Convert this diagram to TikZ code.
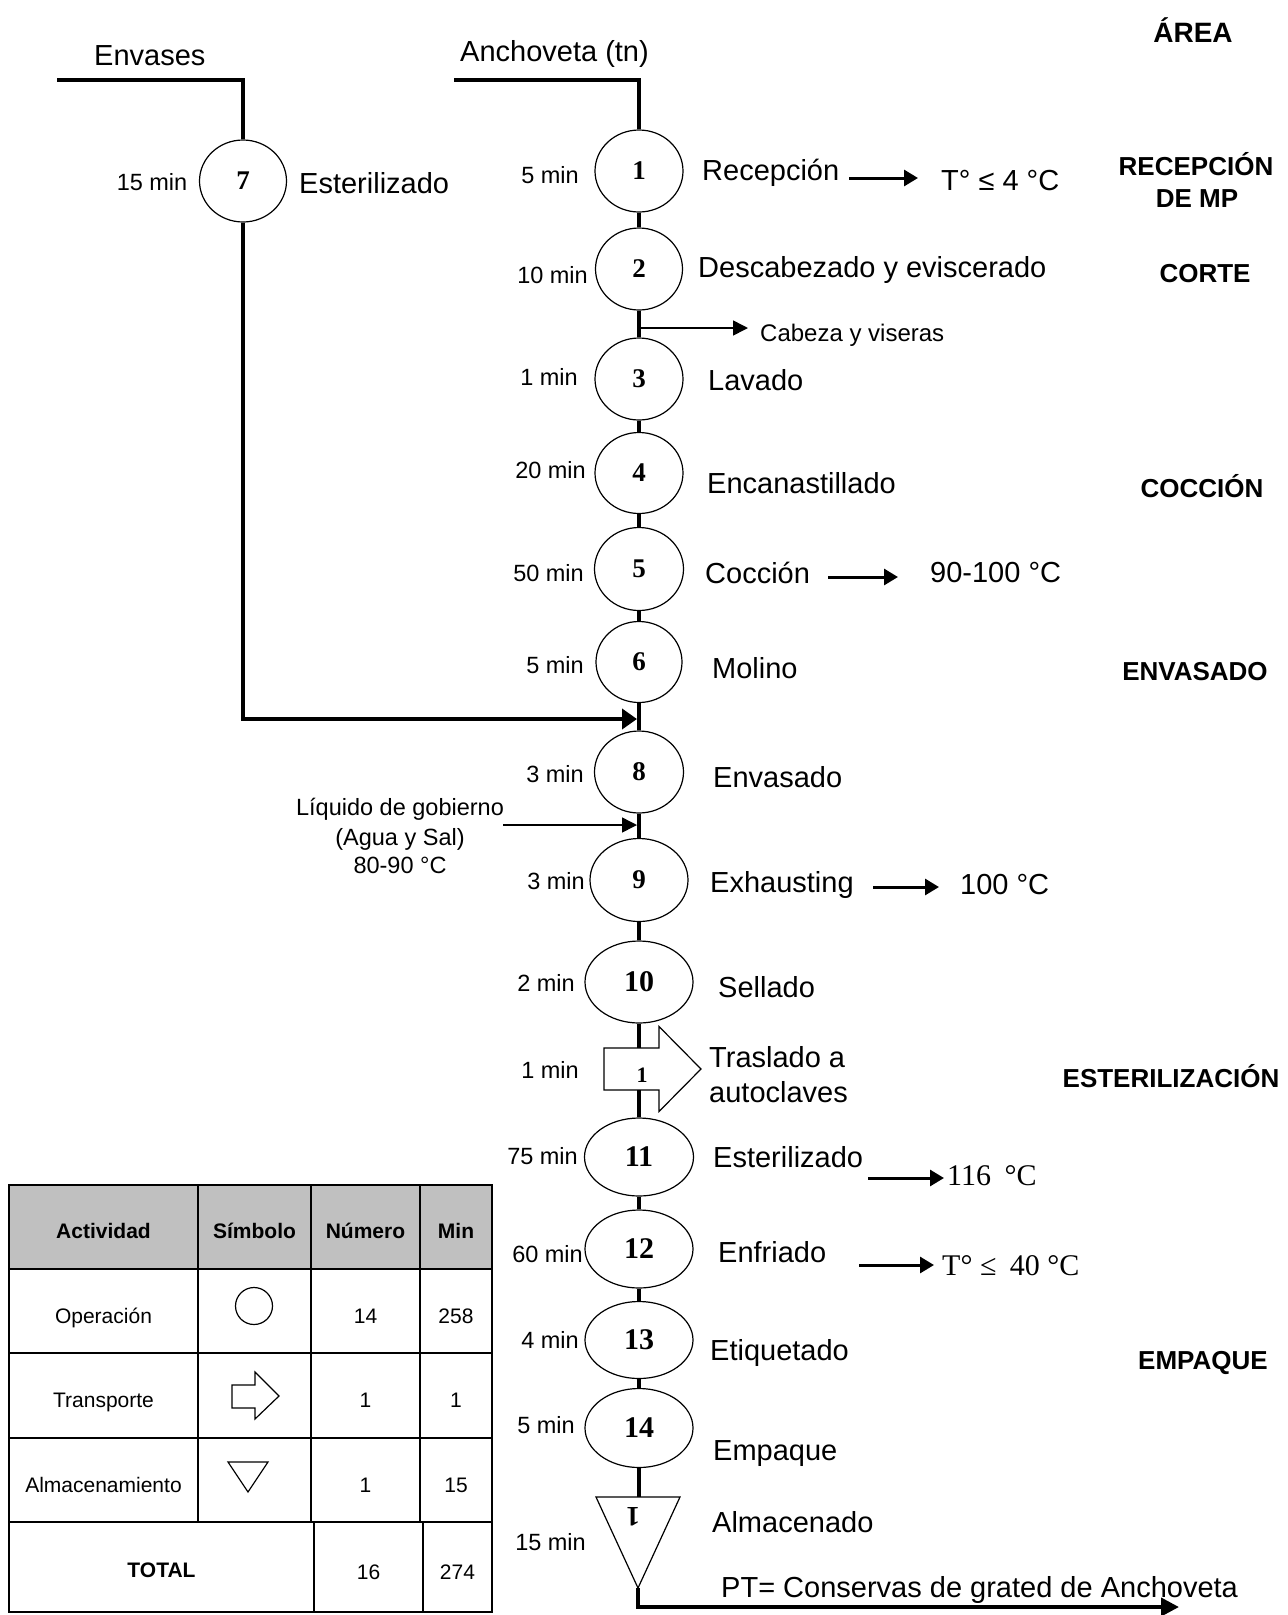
\documentclass[tikz,border=0pt]{standalone}
\usepackage{fontspec}
\setmainfont{Liberation Sans}
\newfontfamily\timesf{Liberation Serif}
\usetikzlibrary{shapes.geometric,arrows.meta}
\definecolor{headgray}{RGB}{192,192,192}
\begin{document}
\begin{tikzpicture}[x=1pt,y=-1pt,
  op/.style={ellipse,draw,line width=1.2pt,fill=white,inner sep=0pt,
    font=\timesf\bfseries\fontsize{27}{30}\selectfont},
  opbig/.style={op,font=\timesf\bfseries\fontsize{30}{32}\selectfont},
  flow/.style={line width=4pt},
  sidearrow/.style={line width=1.5pt,-{Triangle[length=15pt,width=15pt]}},
  temparrow/.style={line width=3pt,-{Triangle[length=14pt,width=16pt]}},
  stepname/.style={anchor=base west,inner sep=0pt,font=\fontsize{29}{34}\selectfont},
  serifname/.style={anchor=base west,inner sep=0pt,font=\timesf\fontsize{30}{34}\selectfont},
  dur/.style={anchor=base east,inner sep=0pt,font=\fontsize{23.5}{28}\selectfont},
  areatxt/.style={anchor=base,inner sep=0pt,font=\bfseries\fontsize{26}{30}\selectfont},
  note/.style={anchor=base,inner sep=0pt,font=\fontsize{23.5}{28}\selectfont},
  cell/.style={anchor=base,inner sep=0pt,font=\fontsize{21}{25}\selectfont},
  cellhead/.style={anchor=base,inner sep=0pt,font=\bfseries\fontsize{21}{25}\selectfont},
  tabline/.style={line width=2pt},
  sym/.style={line width=1.2pt,fill=white}
]
\useasboundingbox (0,0) rectangle (1288,1615);

% ---------- inputs ----------
\node[stepname] (envases) at (94,65) {Envases};
\node[stepname] (anch) at (460,61) {Anchoveta (tn)};
\coordinate (srcE) at (57,80);
\coordinate (srcA) at (454,80);

% ---------- operations ----------
\node[op,minimum width=87pt,minimum height=82pt] (c7) at (243,181) {7};
\node[op,minimum width=88pt,minimum height=82pt] (c1) at (639,171) {1};
\node[op,minimum width=87pt,minimum height=82pt] (c2) at (639,269) {2};
\node[op,minimum width=88pt,minimum height=82pt] (c3) at (639,379) {3};
\node[op,minimum width=88pt,minimum height=81pt] (c4) at (639,473) {4};
\node[op,minimum width=89pt,minimum height=83pt] (c5) at (639,569) {5};
\node[op,minimum width=86pt,minimum height=81pt] (c6) at (639,662) {6};
\node[op,minimum width=89pt,minimum height=82pt] (c8) at (639,772) {8};
\node[op,minimum width=98pt,minimum height=83pt] (c9) at (639,880) {9};
\node[opbig,minimum width=108pt,minimum height=82pt] (c10) at (639,982) {10};
\node[opbig,minimum width=109pt,minimum height=78pt] (c11) at (639,1157) {11};
\node[opbig,minimum width=108pt,minimum height=78pt] (c12) at (639,1249) {12};
\node[opbig,minimum width=108pt,minimum height=77pt] (c13) at (639,1340) {13};
\node[opbig,minimum width=108pt,minimum height=79pt] (c14) at (639,1428) {14};

% ---------- transport ----------
\coordinate (trtop) at (639,1048);
\coordinate (trbot) at (639,1090);
\draw[line width=1.2pt,fill=white] (604,1048) -- (659,1048) -- (659,1026.5) -- (701,1069)
  -- (659,1111.5) -- (659,1090) -- (604,1090) -- cycle;
\node[inner sep=0pt,font=\timesf\bfseries\fontsize{22}{24}\selectfont] (tr) at (642,1075) {1};

% ---------- storage ----------
\coordinate (sttop) at (639,1497);
\coordinate (sttip) at (638,1588);
\draw[line width=1.2pt,fill=white] (596,1497) -- (680,1497) -- (sttip) -- cycle;
\node[inner sep=0pt,rotate=180,font=\timesf\bfseries\fontsize{28}{30}\selectfont] (st) at (633,1517) {1};
\coordinate (out) at (1179,1607);

% ---------- flow lines ----------
\draw[flow] (srcE) -| (c7.north);
\draw[flow] (srcA) -| (c1.north);
\draw[flow] (c1) -- (c2);
\draw[flow] (c2) -- (c3);
\draw[flow] (c3) -- (c4);
\draw[flow] (c4) -- (c5);
\draw[flow] (c5) -- (c6);
\draw[flow] (c6) -- (c8);
\draw[flow] (c8) -- (c9);
\draw[flow] (c9) -- (c10);
\draw[flow] (c10) -- (trtop);
\draw[flow] (trbot) -- (c11);
\draw[flow] (c11) -- (c12);
\draw[flow] (c12) -- (c13);
\draw[flow] (c13) -- (c14);
\draw[flow] (c14) -- (sttop);
\draw[flow,-{Triangle[length=18pt,width=18pt]}] (sttip) |- (out);

\coordinate (j8) at (637,719);
\draw[flow,-{Triangle[length=15pt,width=20pt]}] (c7) |- (j8);

% side streams
\coordinate (b2) at (639,328);
\coordinate (b2e) at (748,328);
\draw[sidearrow] (b2) -- (b2e);
\node[anchor=base west,inner sep=0pt,font=\fontsize{24}{28}\selectfont] (cabeza) at (760,341) {Cabeza y viseras};

\coordinate (l8) at (503,825);
\coordinate (l8e) at (637,825);
\draw[sidearrow] (l8) -- (l8e);
\node[note] (liq1) at (400,815) {Líquido de gobierno};
\node[note] (liq2) at (400,845) {(Agua y Sal)};
\node[note] (liq3) at (400,873) {80-90 °C};

% ---------- durations ----------
\node[dur] (d7) at (187.5,190) {15 min};
\node[dur] (d1) at (579,183) {5 min};
\node[dur] (d2) at (588,283) {10 min};
\node[dur] (d3) at (578,385) {1 min};
\node[dur] (d4) at (586,478) {20 min};
\node[dur] (d5) at (584,581) {50 min};
\node[dur] (d6) at (584,673) {5 min};
\node[dur] (d8) at (584,782) {3 min};
\node[dur] (d9) at (585,889) {3 min};
\node[dur] (d10) at (575,991) {2 min};
\node[dur] (dtr) at (579,1078) {1 min};
\node[dur] (d11) at (578,1164) {75 min};
\node[dur] (d12) at (583,1262) {60 min};
\node[dur] (d13) at (579,1348) {4 min};
\node[dur] (d14) at (575,1433) {5 min};
\node[dur] (dst) at (586,1550) {15 min};

% ---------- step names ----------
\node[stepname] (n7) at (299,193) {Esterilizado};
\node[stepname] (n1) at (702,180) {Recepción};
\node[stepname] (n2) at (698,277) {Descabezado y eviscerado};
\node[stepname] (n3) at (708,390) {Lavado};
\node[stepname] (n4) at (707,493) {Encanastillado};
\node[stepname] (n5) at (705,583) {Cocción};
\node[stepname] (n6) at (712,678) {Molino};
\node[stepname] (n8) at (713,787) {Envasado};
\node[stepname] (n9) at (710,892) {Exhausting};
\node[stepname] (n10) at (718,997) {Sellado};
\node[stepname] (ntr1) at (709,1067) {Traslado a};
\node[stepname] (ntr2) at (709,1102) {autoclaves};
\node[stepname] (n11) at (713,1167) {Esterilizado};
\node[stepname] (n12) at (718,1262) {Enfriado};
\node[stepname] (n13) at (710,1360) {Etiquetado};
\node[stepname] (n14) at (713,1460) {Empaque};
\node[stepname] (nst) at (712,1532) {Almacenado};
\node[stepname] (pt) at (721,1597) {PT= Conservas de grated de Anchoveta};

% ---------- conditions ----------
\coordinate (a1s) at (849,178);  \coordinate (a1e) at (918,178);
\coordinate (a5s) at (828,577);  \coordinate (a5e) at (898,577);
\coordinate (a9s) at (873,887);  \coordinate (a9e) at (939,887);
\coordinate (a11s) at (868,1178); \coordinate (a11e) at (944,1178);
\coordinate (a12s) at (859,1265); \coordinate (a12e) at (934,1265);
\draw[temparrow] (a1s) -- (a1e);
\draw[temparrow] (a5s) -- (a5e);
\draw[temparrow] (a9s) -- (a9e);
\draw[temparrow] (a11s) -- (a11e);
\draw[temparrow] (a12s) -- (a12e);
\node[stepname] (k1) at (941,190) {T° ≤ 4 °C};
\node[stepname] (k5) at (930,582) {90-100 °C};
\node[stepname] (k9) at (960,894) {100 °C};
\node[serifname] (k11) at (947,1185) {116\hspace{0.45em}°C};
\node[serifname] (k12) at (942,1275) {T° ≤\hspace{0.45em}40 °C};

% ---------- areas ----------
\node[areatxt,font=\bfseries\fontsize{28}{32}\selectfont] (ar0) at (1193,42) {ÁREA};
\node[areatxt] (ar1) at (1196,175) {RECEPCIÓN};
\node[areatxt] (ar1b) at (1197,207) {DE MP};
\node[areatxt] (ar2) at (1205,282) {CORTE};
\node[areatxt] (ar3) at (1202,497) {COCCIÓN};
\node[areatxt] (ar4) at (1195,680) {ENVASADO};
\node[areatxt] (ar5) at (1171,1087) {ESTERILIZACIÓN};
\node[areatxt] (ar6) at (1203,1369) {EMPAQUE};

% ---------- summary table ----------
\fill[headgray] (9,1185) rectangle (492,1269);
\draw[tabline] (9,1185) rectangle (492,1612);
\draw[tabline] (9,1269) -- (492,1269);
\draw[tabline] (9,1353) -- (492,1353);
\draw[tabline] (9,1438) -- (492,1438);
\draw[tabline] (9,1522) -- (492,1522);
\draw[tabline] (198,1185) -- (198,1522);
\draw[tabline] (311,1185) -- (311,1522);
\draw[tabline] (420,1185) -- (420,1522);
\draw[tabline] (314,1522) -- (314,1612);
\draw[tabline] (423,1522) -- (423,1612);

\node[cellhead] (h1) at (103.5,1238) {Actividad};
\node[cellhead] (h2) at (254.5,1238) {Símbolo};
\node[cellhead] (h3) at (365.5,1238) {Número};
\node[cellhead] (h4) at (456,1238) {Min};

\node[cell] (r1a) at (103.5,1323) {Operación};
\node[circle,draw,sym,minimum size=37pt,inner sep=0pt] (symop) at (254,1306) {};
\node[cell] (r1c) at (365.5,1323) {14};
\node[cell] (r1d) at (456,1323) {258};

\node[cell] (r2a) at (103.5,1407) {Transporte};
\draw[sym] (232,1385) -- (255,1385) -- (255,1372) -- (279,1396) -- (255,1419)
  -- (255,1408) -- (232,1408) -- cycle;
\node[cell] (r2c) at (365.5,1407) {1};
\node[cell] (r2d) at (456,1407) {1};

\node[cell] (r3a) at (103.5,1492) {Almacenamiento};
\draw[sym] (228,1462) -- (268,1462) -- (248,1492) -- cycle;
\node[cell] (r3c) at (365.5,1492) {1};
\node[cell] (r3d) at (456,1492) {15};

\node[cellhead] (r4a) at (161.5,1577) {TOTAL};
\node[cell] (r4c) at (368.5,1579) {16};
\node[cell] (r4d) at (457.5,1579) {274};
\end{tikzpicture}
\end{document}
